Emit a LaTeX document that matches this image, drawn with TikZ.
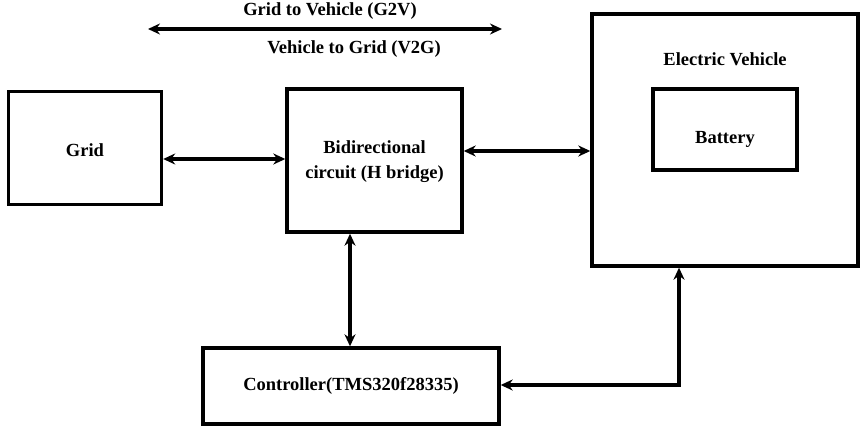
\documentclass[tikz,border=0pt]{standalone}
\usepackage{fontspec}
\setmainfont{Liberation Serif}
\usetikzlibrary{arrows.meta}
\begin{document}
\begin{tikzpicture}[x=1pt,y=-1pt,
  blk/.style={draw, line width=3.4pt, rectangle, inner sep=0pt},
  lbl/.style={font=\bfseries\fontsize{18.5}{25}\selectfont, align=center},
  link/.style={line width=3.2pt, {Stealth[length=12pt,width=11pt]}-{Stealth[length=12pt,width=11pt]}}]
  \useasboundingbox (0,0) rectangle (861,428);
  % blocks
  \node[blk, minimum width=153pt, minimum height=113pt] (grid) at (85,148) {};
  \node[lbl] at ([yshift=-2pt]grid.center) {Grid};
  \node[blk, minimum width=175pt, minimum height=143pt] (hb) at (374.5,160.5) {};
  \node[lbl] at ([yshift=-1pt]hb.center) {Bidirectional\\circuit (H bridge)};
  \node[blk, minimum width=266pt, minimum height=252pt] (ev) at (725,140) {};
  \node[lbl] (evt) at (725,59) {Electric Vehicle};
  \node[blk, minimum width=144pt, minimum height=81pt] (bat) at (725,129.5) {};
  \node[lbl] at ([yshift=-10pt]bat.center) {Battery};
  \node[blk, minimum width=296pt, minimum height=76pt] (ctl) at (351,386) {};
  \node[lbl] at (ctl.center) {Controller(TMS320f28335)};
  % power flow direction
  \coordinate (fl) at (148,29);
  \coordinate (fr) at (502,29);
  \draw[link] (fl) -- (fr);
  \node[lbl] (g2v) at (330,11) {Grid to Vehicle (G2V)};
  \node[lbl] (v2g) at (354,49) {Vehicle to Grid (V2G)};
  % connectors
  \draw[link] (grid.east |- 0,159) -- (hb.west |- 0,159);
  \draw[link] (hb.east |- 0,151) -- (ev.west |- 0,151);
  \draw[link] (hb.south -| 350,0) -- (ctl.north -| 350,0);
  \draw[link] (ctl.east |- 0,385) -| (ev.south -| 679,0);
\end{tikzpicture}
\end{document}
